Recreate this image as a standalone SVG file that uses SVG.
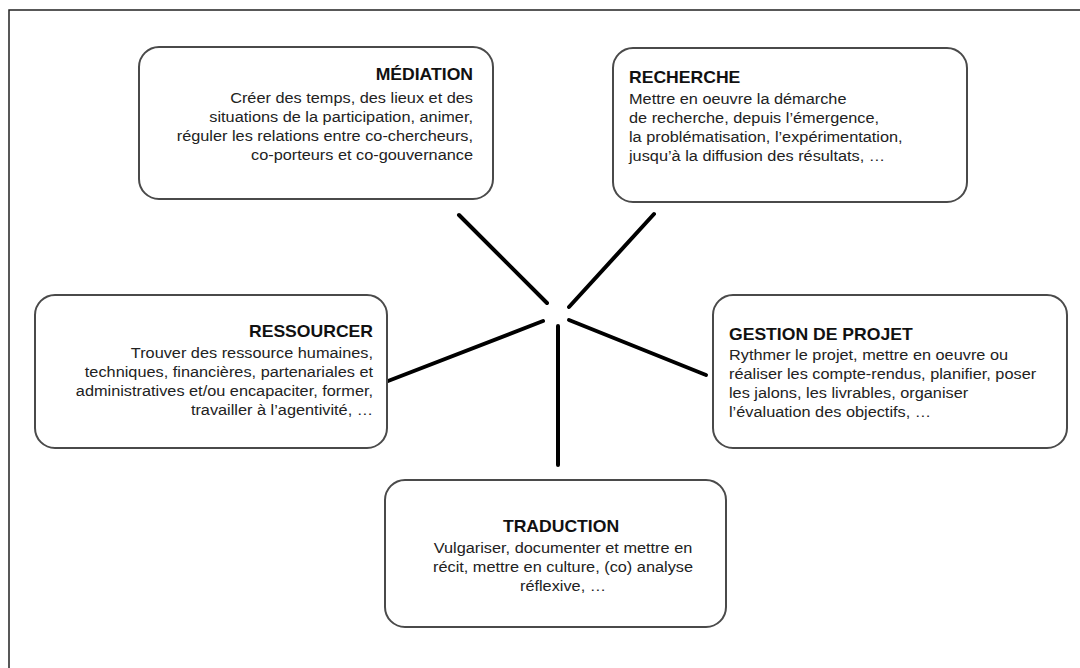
<svg xmlns="http://www.w3.org/2000/svg" width="1080" height="668" viewBox="0 0 1080 668">
<style>
.box{fill:#fff;stroke:#4a4a4a;stroke-width:2}
.t{font-family:"Liberation Sans",Arial,sans-serif;font-size:16px;font-weight:bold;fill:#111}
.b{font-family:"Liberation Sans",Arial,sans-serif;font-size:14.5px;fill:#222}
.c{stroke:#000;stroke-width:4;stroke-linecap:round;fill:none}
.frame{fill:none;stroke:#222;stroke-width:1.5}
</style>
<rect width="1080" height="668" fill="#fff"/>
<path class="frame" d="M9,668 V10 H1080"/>
<g id="connectors">
<line class="c" x1="547" y1="303" x2="459" y2="215"/>
<line class="c" x1="569" y1="307" x2="654" y2="214"/>
<line class="c" x1="543" y1="321" x2="388" y2="381"/>
<line class="c" x1="569" y1="320" x2="706" y2="375"/>
<line class="c" x1="558" y1="326" x2="558" y2="465"/>
</g>
<g id="mediation">
<rect class="box" x="139" y="47" width="354" height="152" rx="20"/>
<g transform="translate(473,0) scale(1.1,1)" text-anchor="end">
<text class="t" x="0" y="80">MÉDIATION</text>
</g>
<g transform="translate(473,0) scale(1.125,1)" text-anchor="end">
<text class="b" x="0" y="103">Créer des temps, des lieux et des</text>
<text class="b" x="0" y="122">situations de la participation, animer,</text>
<text class="b" x="0" y="141">réguler les relations entre co-chercheurs,</text>
<text class="b" x="0" y="160">co-porteurs et co-gouvernance</text>
</g>
</g>
<g id="recherche">
<rect class="box" x="613" y="48" width="354" height="154" rx="20"/>
<g transform="translate(629,0) scale(1.1,1)">
<text class="t" x="0" y="83">RECHERCHE</text>
</g>
<g transform="translate(629,0) scale(1.125,1)">
<text class="b" x="0" y="104">Mettre en oeuvre la démarche</text>
<text class="b" x="0" y="123">de recherche, depuis l’émergence,</text>
<text class="b" x="0" y="142">la problématisation, l’expérimentation,</text>
<text class="b" x="0" y="161">jusqu’à la diffusion des résultats, …</text>
</g>
</g>
<g id="ressourcer">
<rect class="box" x="35" y="295" width="352" height="153" rx="20"/>
<g transform="translate(373,0) scale(1.1,1)" text-anchor="end">
<text class="t" x="0" y="337">RESSOURCER</text>
</g>
<g transform="translate(373,0) scale(1.125,1)" text-anchor="end">
<text class="b" x="0" y="358">Trouver des ressource humaines,</text>
<text class="b" x="0" y="377">techniques, financières, partenariales et</text>
<text class="b" x="0" y="396">administratives et/ou encapaciter, former,</text>
<text class="b" x="0" y="415">travailler à l’agentivité, …</text>
</g>
</g>
<g id="gestion">
<rect class="box" x="713" y="295" width="354" height="153" rx="20"/>
<g transform="translate(729,0) scale(1.1,1)">
<text class="t" x="0" y="340">GESTION DE PROJET</text>
</g>
<g transform="translate(729,0) scale(1.125,1)">
<text class="b" x="0" y="360">Rythmer le projet, mettre en oeuvre ou</text>
<text class="b" x="0" y="379">réaliser les compte-rendus, planifier, poser</text>
<text class="b" x="0" y="398">les jalons, les livrables, organiser</text>
<text class="b" x="0" y="417">l’évaluation des objectifs, …</text>
</g>
</g>
<g id="traduction">
<rect class="box" x="385" y="480" width="341" height="147" rx="20"/>
<g transform="translate(561,0) scale(1.1,1)" text-anchor="middle">
<text class="t" x="0" y="532">TRADUCTION</text>
</g>
<g transform="translate(563,0) scale(1.125,1)" text-anchor="middle">
<text class="b" x="0" y="553">Vulgariser, documenter et mettre en</text>
<text class="b" x="0" y="572">récit, mettre en culture, (co) analyse</text>
<text class="b" x="0" y="591">réflexive, …</text>
</g>
</g>
</svg>
